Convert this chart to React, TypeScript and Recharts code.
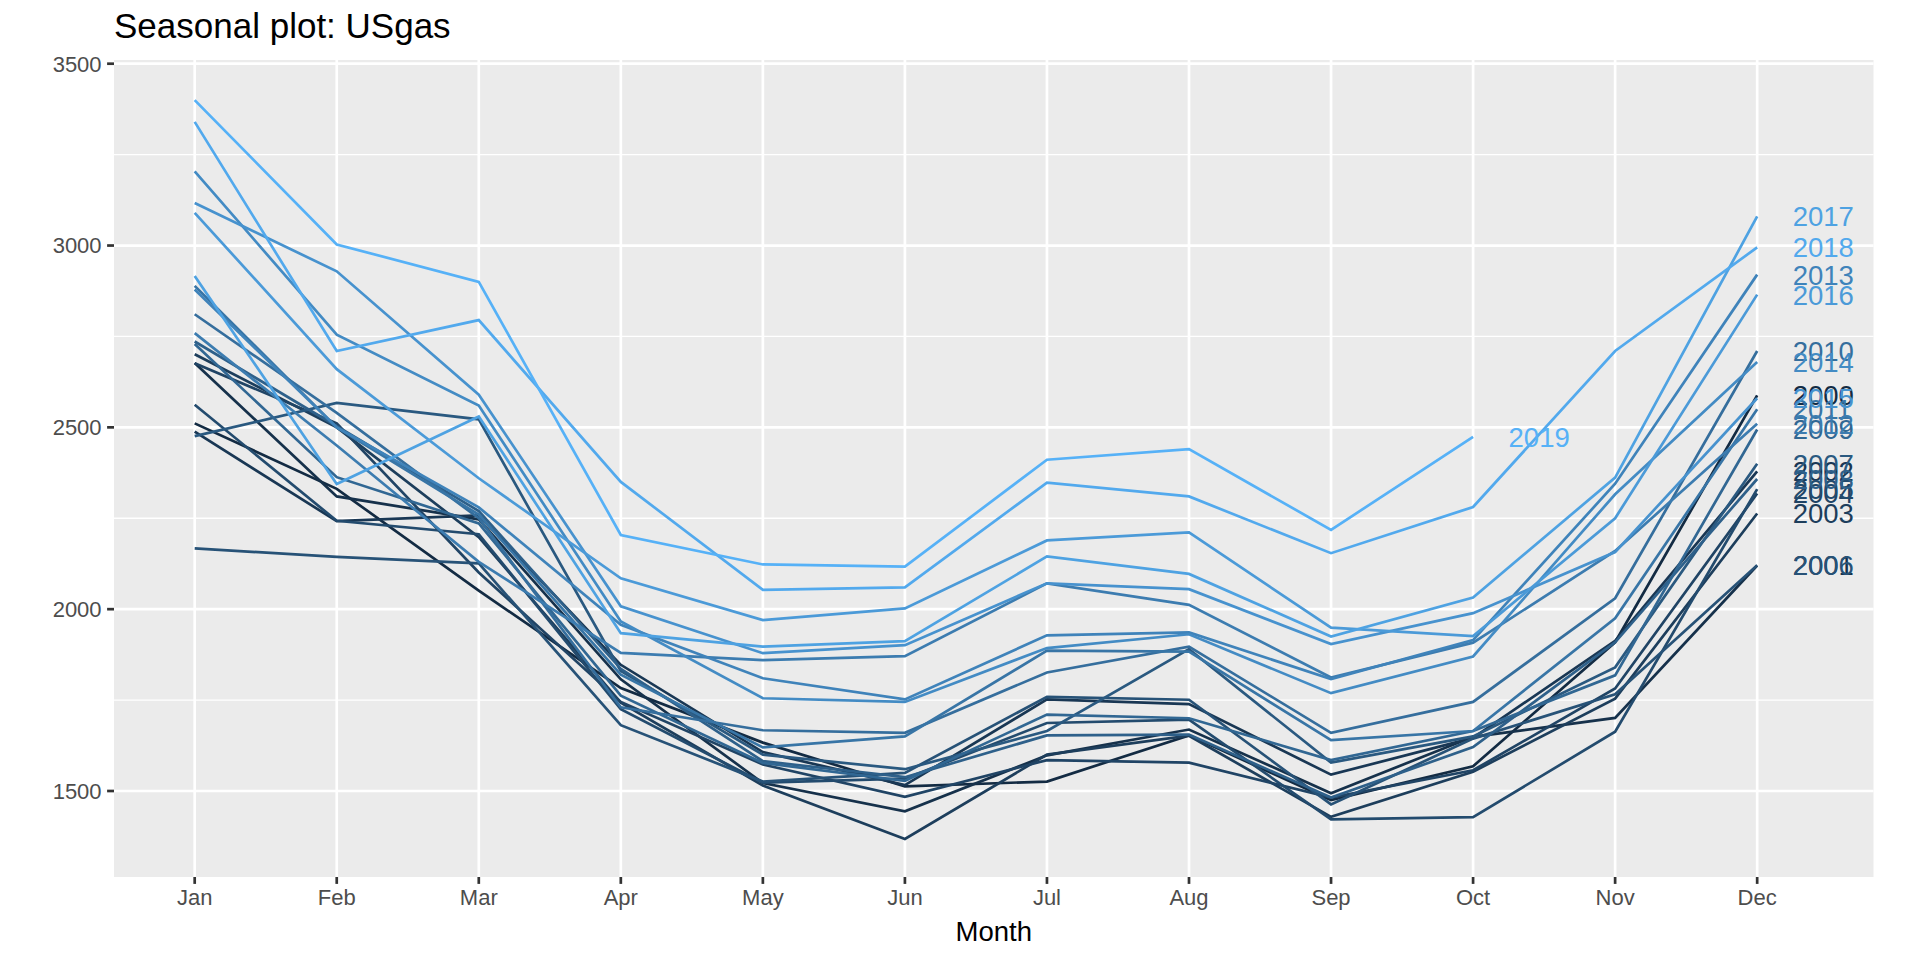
import React from "react";
import { LineChart, Line, XAxis, YAxis, CartesianGrid } from "recharts";

const monthNums = [1, 2, 3, 4, 5, 6, 7, 8, 9, 10, 11, 12];
const monthLabels = ["Jan", "Feb", "Mar", "Apr", "May", "Jun", "Jul", "Aug", "Sep", "Oct", "Nov", "Dec"];
const years = [2000, 2001, 2002, 2003, 2004, 2005, 2006, 2007, 2008, 2009, 2010, 2011, 2012, 2013, 2014, 2015, 2016, 2017, 2018, 2019];

const v2000 = [2511, 2331, 2051, 1783, 1633, 1513, 1526, 1653, 1475, 1568, 1909, 2588];
const v2001 = [2677, 2310, 2247, 1807, 1522, 1444, 1598, 1669, 1494, 1649, 1701, 2120];
const v2002 = [2488, 2242, 2258, 1847, 1607, 1516, 1752, 1739, 1545, 1646, 1913, 2379];
const v2003 = [2701, 2500, 2198, 1743, 1515, 1368, 1600, 1652, 1429, 1553, 1754, 2263];
const v2004 = [2676, 2511, 2101, 1745, 1573, 1484, 1585, 1578, 1482, 1557, 1782, 2318];
const v2005 = [2562, 2243, 2206, 1725, 1523, 1534, 1687, 1696, 1422, 1428, 1663, 2330];
const v2006 = [2167, 2144, 2126, 1681, 1526, 1550, 1759, 1751, 1463, 1644, 1766, 2121];
const v2007 = [2476, 2567, 2522, 1830, 1600, 1560, 1665, 1890, 1578, 1650, 1840, 2400];
const v2008 = [2736, 2503, 2270, 1836, 1582, 1538, 1653, 1655, 1482, 1621, 1909, 2358];
const v2009 = [2729, 2363, 2236, 1762, 1577, 1528, 1710, 1700, 1585, 1665, 1818, 2494];
const v2010 = [2811, 2540, 2250, 1730, 1667, 1660, 1826, 1897, 1660, 1745, 2030, 2710];
const v2011 = [2889, 2500, 2260, 1820, 1620, 1650, 1886, 1883, 1640, 1665, 1975, 2550];
const v2012 = [2759, 2450, 2130, 1880, 1860, 1871, 2071, 2012, 1812, 1908, 2160, 2510];
const v2013 = [2879, 2500, 2280, 1957, 1810, 1752, 1928, 1936, 1808, 1915, 2345, 2920];
const v2014 = [3204, 2755, 2560, 1966, 1755, 1745, 1893, 1931, 1769, 1870, 2316, 2680];
const v2015 = [3117, 2929, 2590, 2008, 1879, 1901, 2071, 2055, 1904, 1989, 2157, 2580];
const v2016 = [3090, 2660, 2360, 2085, 1970, 2002, 2189, 2211, 1949, 1926, 2250, 2865];
const v2017 = [2916, 2344, 2530, 1934, 1897, 1912, 2145, 2097, 1925, 2032, 2362, 3080];
const v2018 = [3340, 2710, 2795, 2350, 2053, 2060, 2348, 2310, 2154, 2281, 2710, 2995];
const v2019 = [3400, 3003, 2900, 2204, 2123, 2117, 2411, 2440, 2218, 2474];

const seriesValues: number[][] = [
  v2000, v2001, v2002, v2003, v2004, v2005, v2006, v2007, v2008, v2009,
  v2010, v2011, v2012, v2013, v2014, v2015, v2016, v2017, v2018, v2019,
];

const yMajor = [1500, 2000, 2500, 3000, 3500];
const yMinor = [1250, 1750, 2250, 2750, 3250];

// ggplot2 default continuous colour gradient (#132B43 -> #56B1F7) interpolated in Lab
function toLin(c: number) {
  const v = c / 255;
  return v <= 0.04045 ? v / 12.92 : Math.pow((v + 0.055) / 1.055, 2.4);
}
function fromLin(c: number) {
  const v = c <= 0.0031308 ? 12.92 * c : 1.055 * Math.pow(c, 1 / 2.4) - 0.055;
  return Math.round(Math.max(0, Math.min(1, v)) * 255);
}
function hexToLab(hex: string) {
  const r = toLin(parseInt(hex.slice(1, 3), 16));
  const g = toLin(parseInt(hex.slice(3, 5), 16));
  const b = toLin(parseInt(hex.slice(5, 7), 16));
  const X = (0.4124564 * r + 0.3575761 * g + 0.1804375 * b) / 0.95047;
  const Y = 0.2126729 * r + 0.7151522 * g + 0.072175 * b;
  const Z = (0.0193339 * r + 0.119192 * g + 0.9503041 * b) / 1.08883;
  const f = (t: number) => (t > 0.008856 ? Math.cbrt(t) : 7.787 * t + 16 / 116);
  const fx = f(X), fy = f(Y), fz = f(Z);
  return [116 * fy - 16, 500 * (fx - fy), 200 * (fy - fz)];
}
function labToHex(L: number, a: number, bb: number) {
  const fy = (L + 16) / 116;
  const fx = fy + a / 500;
  const fz = fy - bb / 200;
  const inv = (t: number) => (t * t * t > 0.008856 ? t * t * t : (t - 16 / 116) / 7.787);
  const X = inv(fx) * 0.95047, Y = inv(fy), Z = inv(fz) * 1.08883;
  const r = 3.2404542 * X - 1.5371385 * Y - 0.4985314 * Z;
  const g = -0.969266 * X + 1.8760108 * Y + 0.041556 * Z;
  const b = 0.0556434 * X - 0.2040259 * Y + 1.0572252 * Z;
  const h = (n: number) => fromLin(n).toString(16).padStart(2, "0");
  return "#" + h(r) + h(g) + h(b);
}
const lowLab = hexToLab("#132B43");
const highLab = hexToLab("#56B1F7");
function yearColor(y: number) {
  const t = (y - years[0]) / (years[years.length - 1] - years[0]);
  return labToHex(
    lowLab[0] + (highLab[0] - lowLab[0]) * t,
    lowLab[1] + (highLab[1] - lowLab[1]) * t,
    lowLab[2] + (highLab[2] - lowLab[2]) * t
  );
}

const rows = monthNums.map((m, i) => {
  const row: Record<string, number | null> = { month: m };
  years.forEach((y, k) => {
    const v = seriesValues[k][i];
    row["y" + y] = v === undefined ? null : v;
  });
  return row;
});

const FONT = "'Liberation Sans', Arial, Helvetica, sans-serif";

export default function App() {
  return (
    <div style={{ position: "absolute", left: 0, top: 0, width: 1920, height: 960, background: "#FFFFFF", fontFamily: FONT }}>
      <div
        style={{
          position: "absolute",
          left: 114,
          top: 8,
          fontSize: 35,
          lineHeight: 1,
          color: "#000000",
          fontFamily: FONT,
          whiteSpace: "nowrap",
        }}
      >
        Seasonal plot: USgas
      </div>
      <LineChart width={1920} height={960} data={rows} margin={{ top: 60, right: 46.5, bottom: 14, left: 0 }}>
        <CartesianGrid fill="#EBEBEB" stroke="#FFFFFF" strokeWidth={1.35} horizontalValues={yMinor} vertical={false} />
        <CartesianGrid stroke="#FFFFFF" strokeWidth={2.7} horizontalValues={yMajor} verticalValues={monthNums} fill="none" />
        <XAxis
          type="number"
          dataKey="month"
          domain={[0.4319, 12.819]}
          allowDataOverflow
          ticks={monthNums}
          interval={0}
          tickFormatter={(v: number) => monthLabels[v - 1]}
          axisLine={false}
          tickLine={{ stroke: "#333333", strokeWidth: 2.7 }}
          tickSize={6.9}
          tickMargin={5.5}
          tick={{ fill: "#4D4D4D", fontSize: 22, fontFamily: FONT }}
          height={69}
          label={{ value: "Month", position: "insideBottom", offset: 5, fill: "#000000", fontSize: 27.5, fontFamily: FONT }}
        />
        <YAxis
          type="number"
          domain={[1263.5, 3510.2]}
          allowDataOverflow
          ticks={yMajor}
          interval={0}
          axisLine={false}
          tickLine={{ stroke: "#333333", strokeWidth: 2.7 }}
          tickSize={6.9}
          tickMargin={5.5}
          tick={{ fill: "#4D4D4D", fontSize: 22, fontFamily: FONT }}
          width={114}
        />
        {years.map((y, k) => {
          const color = yearColor(y);
          const lastIdx = seriesValues[k].length - 1;
          return (
            <Line
              key={y}
              type="linear"
              dataKey={"y" + y}
              stroke={color}
              strokeWidth={2.7}
              dot={false}
              activeDot={false}
              isAnimationActive={false}
              connectNulls={false}
              label={(p: any) =>
                p.index === lastIdx ? (
                  <text
                    key={"lab" + y}
                    x={p.x + 35.5}
                    y={p.y}
                    dy="0.36em"
                    fill={color}
                    fontSize={27.5}
                    fontFamily={FONT}
                    textAnchor="start"
                  >
                    {y}
                  </text>
                ) : (
                  <g key={"lab" + y + "-" + p.index} />
                )
              }
            />
          );
        })}
      </LineChart>
    </div>
  );
}
